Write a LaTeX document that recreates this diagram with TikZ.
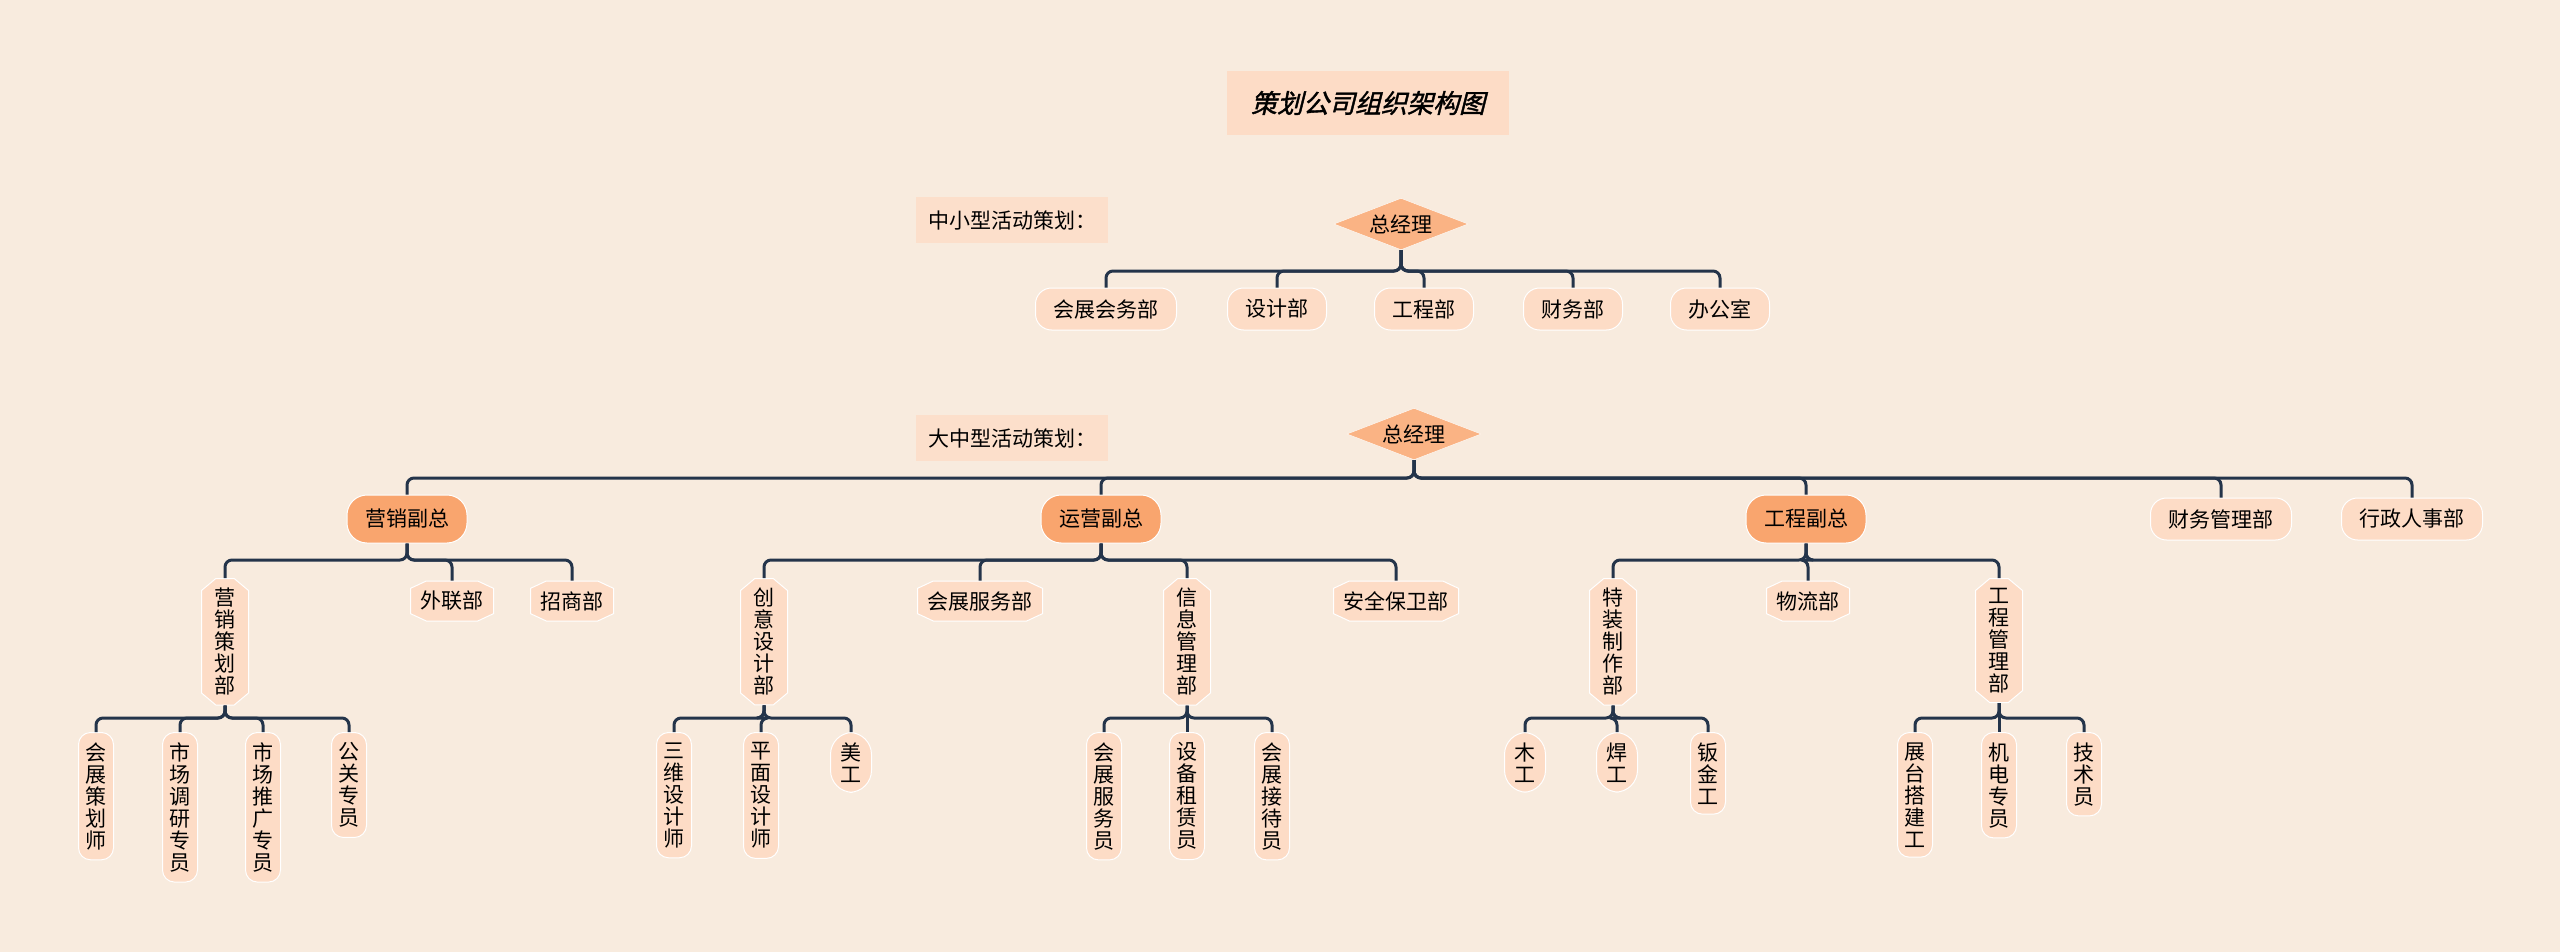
\documentclass[tikz,border=0pt]{standalone}
\usepackage{fontspec}
\setmainfont{Noto Sans CJK SC}
\newfontfamily\titlefont[FakeSlant=0.25,FakeBold=1.5]{Noto Sans CJK SC}
\usetikzlibrary{shapes.geometric,shapes.misc}
\definecolor{bgpaper}{HTML}{F8EBDE}
\definecolor{peach}{HTML}{FDDCC6}
\definecolor{orangebox}{HTML}{F9A56E}
\definecolor{linkblue}{HTML}{24344A}
\tikzset{
  pill/.style={fill=peach, draw=white, line width=1pt, rounded corners=16pt, minimum height=42pt, inner xsep=18pt, font=\fontsize{21}{22}\selectfont},
  vpbox/.style={chamfered rectangle, chamfered rectangle xsep=10pt, chamfered rectangle angle=50, fill=peach, draw=white, line width=1pt, align=center, inner xsep=3pt, inner ysep=6pt, font=\fontsize{21}{22}\selectfont},
  hexbox/.style={chamfered rectangle, chamfered rectangle xsep=8pt, chamfered rectangle angle=65, fill=peach, draw=white, line width=1pt, minimum height=40pt, inner xsep=2pt, font=\fontsize{21}{22}\selectfont},
  vpill/.style={fill=peach, draw=white, line width=1pt, rounded corners=12pt, align=center, inner xsep=7pt, inner ysep=10pt, anchor=north, font=\fontsize{21}{22}\selectfont},
  vice/.style={pill, fill=orangebox, rounded corners=20pt, minimum height=48pt},
  boss/.style={diamond, aspect=2.6, fill=orangebox!75!peach, draw=white, inner sep=3pt, font=\fontsize{21}{22}\selectfont},
  tag/.style={fill=peach!80!bgpaper, inner xsep=12pt, minimum height=46pt, font=\fontsize{21}{22}\selectfont},
  link/.style={draw=linkblue, line width=3pt, rounded corners=7pt},
}
\begin{document}
\begin{tikzpicture}[x=1pt,y=-1pt]
\fill[bgpaper] (0,0) rectangle (2560,952);
\useasboundingbox (0,0) rectangle (2560,952);

% title
\node[fill=peach, minimum width=282pt, minimum height=64pt, font=\titlefont\fontsize{26}{28}\selectfont] (title) at (1368,103) {策划公司组织架构图};

% small events
\node[tag] (tagS) at (1012,220) {中小型活动策划：};
\node[boss] (bossS) at (1401,224) {总经理};
\node[pill] (s1) at (1106,309) {会展会务部};
\node[pill] (s2) at (1277,309) {设计部};
\node[pill] (s3) at (1424,309) {工程部};
\node[pill] (s4) at (1573,309) {财务部};
\node[pill] (s5) at (1720,309) {办公室};
\foreach \c in {s1,s2,s3,s4,s5}
  \draw[link] (bossS.south) -- (1401,271) -| (\c.north);

% large events
\node[tag] (tagL) at (1012,438) {大中型活动策划：};
\node[boss] (bossL) at (1414,434) {总经理};
\node[vice] (vMkt) at (407,519) {营销副总};
\node[vice] (vOps) at (1101,519) {运营副总};
\node[vice] (vEng) at (1806,519) {工程副总};
\node[pill] (dFin) at (2221,519) {财务管理部};
\node[pill] (dHr) at (2412,519) {行政人事部};
\foreach \c in {vMkt,vOps,vEng,dFin,dHr}
  \draw[link] (bossL.south) -- (1414,478) -| (\c.north);

% departments
\node[vpbox, anchor=north] (mPlan) at (225,578) {营\\销\\策\\划\\部};
\node[hexbox] (mExt) at (452,601) {外联部};
\node[hexbox] (mInv) at (572,601) {招商部};
\node[vpbox, anchor=north] (oCre) at (764,578) {创\\意\\设\\计\\部};
\node[hexbox] (oSvc) at (980,601) {会展服务部};
\node[vpbox, anchor=north] (oInf) at (1187,578) {信\\息\\管\\理\\部};
\node[hexbox] (oSec) at (1396,601) {安全保卫部};
\node[vpbox, anchor=north] (eSpc) at (1613,578) {特\\装\\制\\作\\部};
\node[hexbox] (eLog) at (1808,601) {物流部};
\node[vpbox, anchor=north] (eMgt) at (1999,578) {工\\程\\管\\理\\部};
\foreach \p/\c in {vMkt/mPlan,vMkt/mExt,vMkt/mInv,vOps/oCre,vOps/oSvc,vOps/oInf,vOps/oSec,vEng/eSpc,vEng/eLog,vEng/eMgt}
  \draw[link] (\p.south) -- (\p.south |- 0,560) -| (\c.north);

% staff
\node[vpill] (m1) at (96,732) {会\\展\\策\\划\\师};
\node[vpill] (m2) at (180,732) {市\\场\\调\\研\\专\\员};
\node[vpill] (m3) at (263,732) {市\\场\\推\\广\\专\\员};
\node[vpill] (m4) at (349,732) {公\\关\\专\\员};
\node[vpill] (c1) at (674,732) {三\\维\\设\\计\\师};
\node[vpill] (c2) at (761,732) {平\\面\\设\\计\\师};
\node[vpill, rounded corners=22pt, inner xsep=10pt] (c3) at (851,732) {美\\工};
\node[vpill] (i1) at (1104,732) {会\\展\\服\\务\\员};
\node[vpill] (i2) at (1187,732) {设\\备\\租\\赁\\员};
\node[vpill] (i3) at (1272,732) {会\\展\\接\\待\\员};
\node[vpill, rounded corners=22pt, inner xsep=10pt] (p1) at (1525,732) {木\\工};
\node[vpill, rounded corners=22pt, inner xsep=10pt] (p2) at (1617,732) {焊\\工};
\node[vpill] (p3) at (1708,732) {钣\\金\\工};
\node[vpill] (g1) at (1915,732) {展\\台\\搭\\建\\工};
\node[vpill] (g2) at (1999,732) {机\\电\\专\\员};
\node[vpill] (g3) at (2084,732) {技\\术\\员};
\foreach \p/\c in {mPlan/m1,mPlan/m2,mPlan/m3,mPlan/m4,oCre/c1,oCre/c2,oCre/c3,oInf/i1,oInf/i2,oInf/i3,eSpc/p1,eSpc/p2,eSpc/p3,eMgt/g1,eMgt/g2,eMgt/g3}
  \draw[link] (\p.south) -- (\p.south |- 0,718) -| (\c.north);
\end{tikzpicture}
\end{document}
